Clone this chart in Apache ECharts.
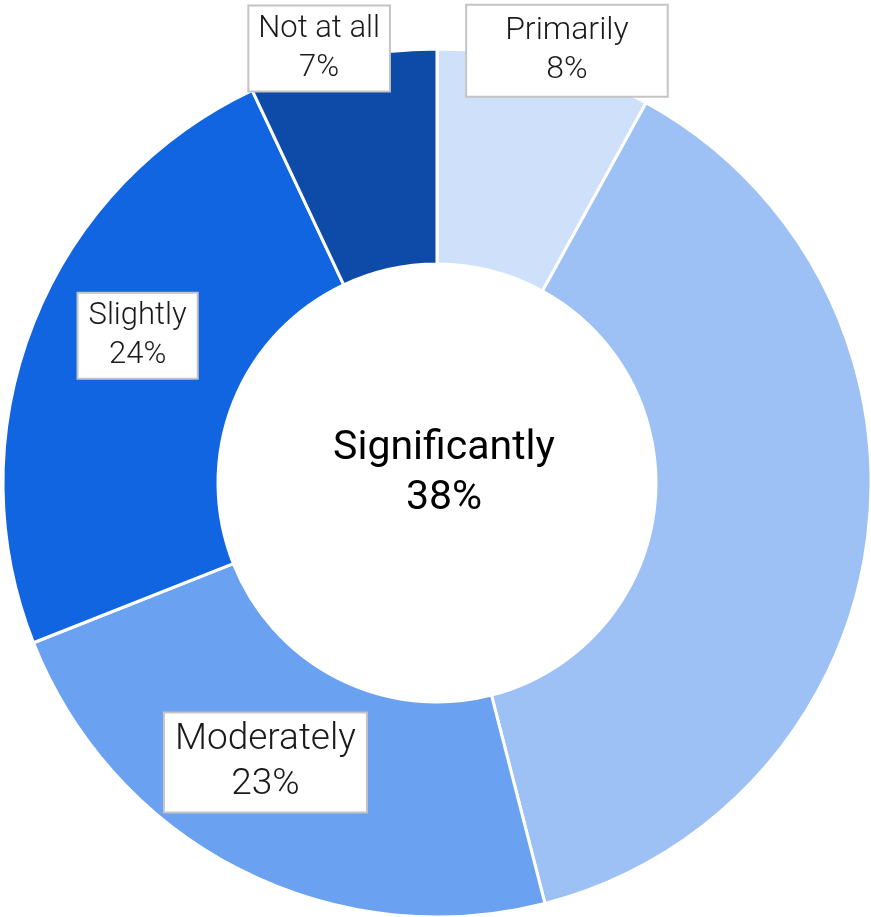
<!DOCTYPE html>
<html>
<head>
<meta charset="utf-8">
<script src="https://cdn.jsdelivr.net/npm/echarts@6/dist/echarts.min.js"></script>
<style>
html,body{margin:0;padding:0;background:#fff;}
#chart{width:871px;height:917px;}
</style>
</head>
<body>
<div id="chart"></div>
<script>
const categories = ['Primarily', 'Significantly', 'Moderately', 'Slightly', 'Not at all'];
const values = [8, 38, 23, 24, 7];
const colors = ['#cfe0fa', '#9ec1f5', '#6ba1f1', '#1265e0', '#0e4aa8'];

const boxBase = {
  position: 'inside',
  backgroundColor: '#ffffff',
  borderColor: '#c4c4c4',
  borderWidth: 2,
  color: '#1a1a1a',
  fontFamily: 'Roboto',
  fontWeight: 300,
  fontSize: 31,
  lineHeight: 39,
  align: 'center',
  verticalAlign: 'middle'
};

const labelSettings = [
  Object.assign({}, boxBase, {offset: [48, -113], fontSize: 32, padding: [9, 38, 3, 38]}),
  {position: 'center', color: '#000', fontFamily: 'Roboto', fontWeight: 400, fontSize: 41, lineHeight: 50, offset: [7, -9], backgroundColor: 'transparent', borderWidth: 0},
  Object.assign({}, boxBase, {offset: [-22, -14], fontSize: 37, lineHeight: 45, padding: [5, 10, 3, 10]}),
  Object.assign({}, boxBase, {offset: [7, -26], padding: [4, 10, 2, 10]}),
  Object.assign({}, boxBase, {offset: [-46, -113], padding: [5, 9, 1, 9]})
];

const chart = echarts.init(document.getElementById('chart'), null, {renderer: 'canvas'});
chart.setOption({
  animation: false,
  series: [{
    type: 'pie',
    center: [437, 483],
    radius: [219, 434],
    startAngle: 90,
    clockwise: true,
    avoidLabelOverlap: false,
    labelLine: {show: false},
    itemStyle: {borderColor: '#ffffff', borderWidth: 3},
    label: {show: true, formatter: '{b}\n{c}%'},
    emphasis: {disabled: true},
    data: categories.map((name, i) => ({
      name: name,
      value: values[i],
      itemStyle: {color: colors[i]},
      label: labelSettings[i]
    }))
  }]
});
</script>
</body>
</html>
